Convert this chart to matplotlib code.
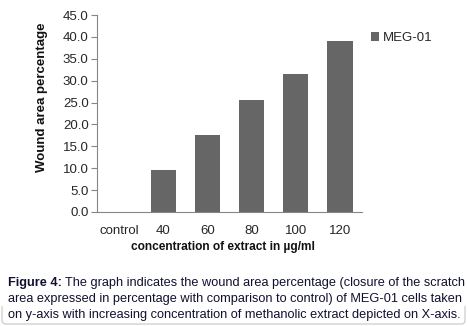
import matplotlib
matplotlib.use("Agg")
import matplotlib.pyplot as plt
from matplotlib.path import Path
from matplotlib.patches import PathPatch

categories = ["control", "40", "60", "80", "100", "120"]
values = [0.0, 9.7, 17.6, 25.6, 31.5, 39.1]
yticks = [0, 5, 10, 15, 20, 25, 30, 35, 40, 45]
series_name = "MEG-01"

plt.rcParams['font.family'] = ['Liberation Sans', 'DejaVu Sans']

W, H = 467, 326
fig = plt.figure(figsize=(W / 100, H / 100), dpi=100)
ax = fig.add_axes([97 / W, 1 - 212 / H, (362 - 97) / W, (212 - 15) / H])

x = list(range(len(categories)))
ax.bar(x, values, width=0.57, color="#666666", label=series_name)
ax.set_xlim(-0.5, len(categories) - 0.5)
ax.set_ylim(0, 45)
ax.set_yticks(yticks)
ax.set_yticklabels([f"{v:.1f}" for v in yticks])
ax.set_xticks(x)
ax.set_xticklabels(categories)
for s in ["top", "right"]:
    ax.spines[s].set_visible(False)
for s in ["left", "bottom"]:
    ax.spines[s].set_color("#868686")
    ax.spines[s].set_linewidth(0.8)
ax.tick_params(axis="y", length=4, width=0.8, color="#868686", labelsize=9.5,
               labelcolor="#262626", pad=2)
ax.tick_params(axis="x", length=0, labelsize=9.5, labelcolor="#262626", pad=9)
ax.set_ylabel("Wound area percentage", fontsize=9.5, fontweight="bold",
              color="#111111")
ax.yaxis.set_label_coords(-(97 - 42) / 265, (212 - 97) / 197)
ax.set_xlabel("concentration of extract in µg/ml", fontsize=8.6,
              fontweight="bold", color="#111111")
ax.xaxis.set_label_coords((223 - 97) / 265, -(247 - 212) / 197)
ax.xaxis.label.set_va("center")
ax.yaxis.label.set_va("center")

leg = ax.legend(loc="upper left", bbox_to_anchor=(366 / W, 1 - 27 / H),
                bbox_transform=fig.transFigure, frameon=False, fontsize=9.5,
                handlelength=0.6, handleheight=0.6, handletextpad=0.3,
                borderaxespad=0)
for t in leg.get_texts():
    t.set_color("#262626")

# caption box: faint border only along the bottom with rounded corners
def fx(px):
    return px / W

def fy(py):
    return 1 - py / H

r = 4
yb = 324
verts = [(fx(2), fy(306)), (fx(2), fy(yb - r)), (fx(2), fy(yb)), (fx(2 + r), fy(yb)),
         (fx(W - 2 - r), fy(yb)), (fx(W - 2), fy(yb)), (fx(W - 2), fy(yb - r)),
         (fx(W - 2), fy(306))]
codes = [Path.MOVETO, Path.LINETO, Path.CURVE3, Path.CURVE3,
         Path.LINETO, Path.CURVE3, Path.CURVE3, Path.LINETO]
fig.patches.append(PathPatch(Path(verts, codes), transform=fig.transFigure,
                             facecolor="none", edgecolor="#cccccc", linewidth=0.9))

cap_color = "#101030"
fs = 9.2
y1 = fy(283)
fig.text(8 / W, y1, "Figure 4:", fontsize=fs, fontweight="bold", color=cap_color,
         va="center", ha="left")
fig.text(65 / W, y1, "The graph indicates the wound area percentage (closure of the scratch",
         fontsize=fs, color=cap_color, va="center", ha="left")
fig.text(8 / W, fy(299),
         "area expressed in percentage with comparison to control) of MEG-01 cells taken",
         fontsize=fs, color=cap_color, va="center", ha="left")
fig.text(8 / W, fy(315),
         "on y-axis with increasing concentration of methanolic extract depicted on X-axis.",
         fontsize=fs, color=cap_color, va="center", ha="left")

fig.savefig("out.png", dpi=100)
